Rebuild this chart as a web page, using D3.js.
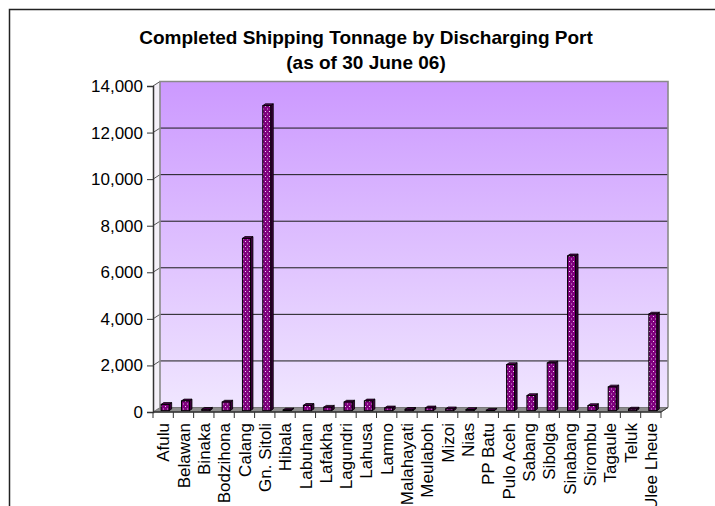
<!DOCTYPE html>
<html>
<head>
<meta charset="utf-8">
<script src="https://cdn.jsdelivr.net/npm/d3@7"></script>
<style>
  body { margin: 0; background: #fff; }
  text { font-family: Arial, "Liberation Sans", sans-serif; fill: #000; }
</style>
</head>
<body>
<div id="chart"></div>
<script>
var ports = ["Afulu", "Belawan", "Binaka", "Bodzihona", "Calang", "Gn. Sitoli", "Hibala",
  "Labuhan", "Lafakha", "Lagundri", "Lahusa", "Lamno", "Malahayati", "Meulaboh", "Mizoi",
  "Nias", "PP Batu", "Pulo Aceh", "Sabang", "Sibolga", "Sinabang", "Sirombu", "Tagaule",
  "Teluk", "Ulee Lheue"];
var tonnage = [270, 420, 60, 370, 7400, 13100, 30, 230, 150, 370, 420, 120, 60, 120, 80,
  50, 20, 1980, 650, 2050, 6650, 220, 1020, 70, 4150];
var yTicks = [0, 2000, 4000, 6000, 8000, 10000, 12000, 14000];
var titleLines = ["Completed Shipping Tonnage by Discharging Port", "(as of 30 June 06)"];

var width = 715, height = 506;
var depthX = 7, depthY = -4.5;   // 3d offset of the back wall

var svg = d3.select("#chart").append("svg")
    .attr("width", width)
    .attr("height", height);

var x = d3.scaleBand().domain(ports).range([153, 661]);
var y = d3.scaleLinear().domain([0, 14000]).range([412, 86]);

var defs = svg.append("defs");
var grad = defs.append("linearGradient")
    .attr("id", "wallGrad").attr("x1", 0).attr("y1", 0).attr("x2", 0).attr("y2", 1);
grad.append("stop").attr("offset", "0%").attr("stop-color", "#cc99ff");
grad.append("stop").attr("offset", "100%").attr("stop-color", "#f0e6ff");

var pat = defs.append("pattern")
    .attr("id", "dots").attr("patternUnits", "userSpaceOnUse")
    .attr("width", 4).attr("height", 5);
pat.append("rect").attr("width", 4).attr("height", 5).attr("fill", "#80007f");
pat.append("rect").attr("x", 1).attr("y", 1).attr("width", 1).attr("height", 1).attr("fill", "#f0d8f0");
pat.append("rect").attr("x", 3).attr("y", 3.5).attr("width", 1).attr("height", 1).attr("fill", "#d8b0d8");

// frame (only top and left edges are visible)
svg.append("path")
    .attr("d", "M9.5," + height + "V9.5H" + width)
    .attr("fill", "none").attr("stroke", "#222").attr("stroke-width", 1.5);

// title
svg.append("g").selectAll("text")
    .data(titleLines)
  .enter().append("text")
    .attr("x", 366)
    .attr("y", function (d, i) { return 44 + i * 25; })
    .attr("text-anchor", "middle")
    .style("font-size", "19px")
    .style("font-weight", "bold")
    .text(function (d) { return d; });

var x0 = x.range()[0], x1 = x.range()[1];
var yTop = y(14000), yBot = y(0);

// left side wall
svg.append("path")
    .attr("d", "M" + x0 + "," + yBot + "L" + x0 + "," + yTop + "L" + (x0 + depthX) + "," + (yTop + depthY) +
      "L" + (x0 + depthX) + "," + (yBot + depthY) + "Z")
    .attr("fill", "#f4f0f8").attr("stroke", "none");

// back wall
svg.append("rect")
    .attr("x", x0 + depthX).attr("y", yTop + depthY)
    .attr("width", x1 - x0).attr("height", yBot - yTop)
    .attr("fill", "url(#wallGrad)");

// floor
svg.append("path")
    .attr("d", "M" + x0 + "," + yBot + "L" + (x0 + depthX) + "," + (yBot + depthY) +
      "L" + (x1 + depthX) + "," + (yBot + depthY) + "L" + x1 + "," + yBot + "Z")
    .attr("fill", "#8c8c8c").attr("stroke", "#666").attr("stroke-width", 0.8);

// gridlines on back wall and side wall
var grid = svg.append("g");
grid.selectAll("line.g")
    .data(yTicks.filter(function (d) { return d > 0 && d < 14000; }))
  .enter().append("line")
    .attr("class", "g")
    .attr("x1", x0 + depthX).attr("x2", x1 + depthX)
    .attr("y1", function (d) { return y(d) + depthY; })
    .attr("y2", function (d) { return y(d) + depthY; })
    .attr("stroke", "#1a1a1a").attr("stroke-width", 1);
grid.selectAll("line.s")
    .data(yTicks.filter(function (d) { return d > 0; }))
  .enter().append("line")
    .attr("class", "s")
    .attr("x1", x0).attr("x2", x0 + depthX)
    .attr("y1", function (d) { return y(d); })
    .attr("y2", function (d) { return y(d) + depthY; })
    .attr("stroke", "#555").attr("stroke-width", 1);

// wall outline
svg.append("path")
    .attr("d", "M" + (x0 + depthX) + "," + (yBot + depthY) + "V" + (yTop + depthY) + "H" + (x1 + depthX) +
      "V" + (yBot + depthY))
    .attr("fill", "none").attr("stroke", "#8a8a8a").attr("stroke-width", 1.6);

// bars (3d columns)
var barW = 8, barDX = 2.5, barDY = -1.8;
var bars = svg.append("g").selectAll("g")
    .data(ports.map(function (p, i) { return { port: p, value: tonnage[i] }; }))
  .enter().append("g");

function bx(d) { return x(d.port) + x.bandwidth() / 2 - barW / 2 + 2; }
var byOff = -1.3;

bars.append("path")   // side face
    .attr("d", function (d) {
      var l = bx(d) + barW, t = y(d.value) + byOff, b = y(0) + byOff;
      return "M" + l + "," + b + "L" + l + "," + t + "L" + (l + barDX) + "," + (t + barDY) +
        "L" + (l + barDX) + "," + (b + barDY) + "Z";
    })
    .attr("fill", "#3a003a").attr("stroke", "#000").attr("stroke-width", 0.8);
bars.append("path")   // top face
    .attr("d", function (d) {
      var l = bx(d), t = y(d.value) + byOff;
      return "M" + l + "," + t + "L" + (l + barDX) + "," + (t + barDY) + "L" + (l + barW + barDX) + "," + (t + barDY) +
        "L" + (l + barW) + "," + t + "Z";
    })
    .attr("fill", "#5a005a").attr("stroke", "#000").attr("stroke-width", 0.8);
bars.append("rect")   // front face
    .attr("x", bx)
    .attr("y", function (d) { return y(d.value) + byOff; })
    .attr("width", barW)
    .attr("height", function (d) { return y(0) - y(d.value); })
    .attr("fill", "url(#dots)")
    .attr("stroke", "#000").attr("stroke-width", 1);

// y axis
var yAxis = svg.append("g")
    .attr("transform", "translate(" + x0 + ",0)")
    .call(d3.axisLeft(y).tickValues(yTicks).tickFormat(d3.format(",")).tickSize(6).tickPadding(4));
yAxis.select(".domain").attr("stroke", "#333").attr("stroke-width", 1.5);
yAxis.selectAll(".tick line").attr("stroke", "#333");
yAxis.selectAll(".tick text")
    .style("font-size", "17px")
    .style("font-family", "Arial, 'Liberation Sans', sans-serif")
    .attr("fill", "#000");

// x axis
var xg = svg.append("g");
xg.append("line")
    .attr("x1", x0).attr("x2", x1).attr("y1", yBot).attr("y2", yBot)
    .attr("stroke", "#333").attr("stroke-width", 1.5);
xg.append("line")
    .attr("x1", x1).attr("x2", x1 + depthX).attr("y1", yBot).attr("y2", yBot + depthY)
    .attr("stroke", "#333").attr("stroke-width", 1);
xg.selectAll("line.t")
    .data(ports.map(function (p) { return x(p); }).concat([x1]))
  .enter().append("line")
    .attr("class", "t")
    .attr("x1", function (d) { return d; }).attr("x2", function (d) { return d; })
    .attr("y1", yBot).attr("y2", yBot + 6)
    .attr("stroke", "#333").attr("stroke-width", 1);
xg.selectAll("text")
    .data(ports)
  .enter().append("text")
    .attr("transform", function (d) {
      return "translate(" + (x(d) + x.bandwidth() / 2) + "," + 423 + ") rotate(-90)";
    })
    .attr("dy", "0.36em")
    .attr("text-anchor", "end")
    .style("font-size", "17px")
    .text(function (d) { return d; });
</script>
</body>
</html>
